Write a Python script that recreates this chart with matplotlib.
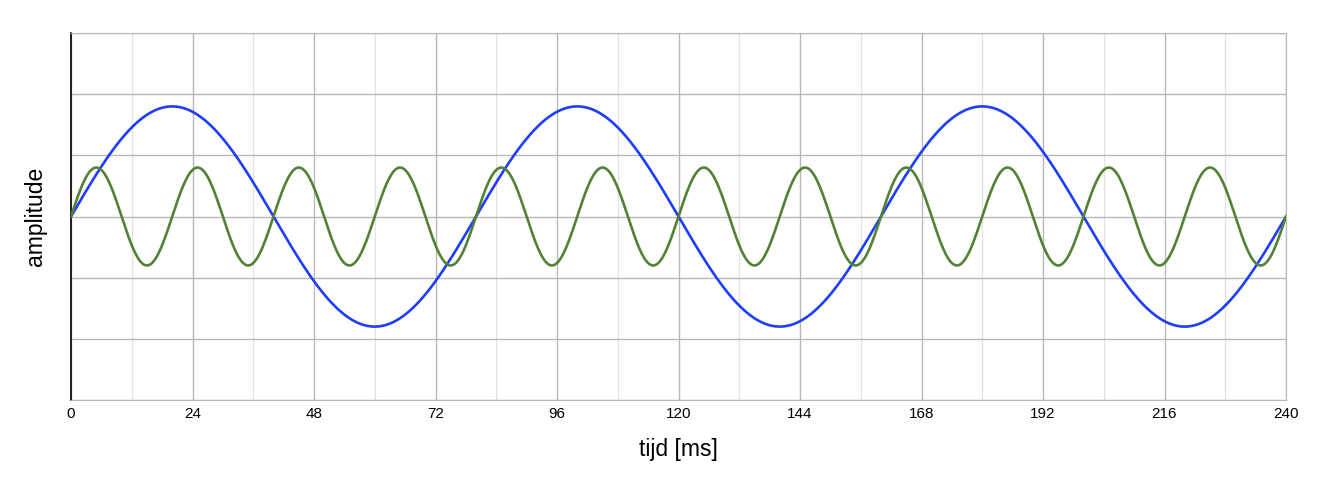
import numpy as np
import matplotlib.pyplot as plt
from matplotlib.ticker import MultipleLocator

plt.rcParams['font.family'] = ['Liberation Sans', 'DejaVu Sans']

# signalen: frequentie [Hz] en amplitude
signal_names = ['12.5 Hz', '50 Hz']
signal_freqs = [12.5, 50.0]
signal_amps = [1.8, 0.8]
signal_colors = ['#1f3dff', '#538135']

x_ticks = [0, 24, 48, 72, 96, 120, 144, 168, 192, 216, 240]

t = np.linspace(0, 240, 2401)  # tijd in ms

fig = plt.figure(figsize=(13.24, 4.97), dpi=100)
ax = fig.add_axes([71 / 1324, 1 - 400 / 497, (1286 - 71) / 1324, (400 - 33) / 497])

for name, f, a, c in zip(signal_names, signal_freqs, signal_amps, signal_colors):
    ax.plot(t, a * np.sin(2 * np.pi * f * t / 1000), color=c, linewidth=1.9,
            label=name, zorder=3)

ax.set_xlim(0, 240)
ax.set_ylim(-3, 3)
ax.set_xticks(x_ticks)
ax.xaxis.set_minor_locator(MultipleLocator(12))
ax.yaxis.set_major_locator(MultipleLocator(1))
ax.set_yticklabels([])
ax.tick_params(axis='both', which='both', length=0)
ax.tick_params(axis='x', labelsize=11, pad=5)

ax.grid(True, which='major', color='#b8b8b8', linewidth=1.0)
ax.grid(True, which='minor', axis='x', color='#e2e2e2', linewidth=0.9)
ax.set_axisbelow(True)

for side in ['top', 'right', 'bottom']:
    ax.spines[side].set_color('#b8b8b8')
ax.spines['left'].set_color('black')
ax.spines['left'].set_linewidth(1.2)

ax.set_xlabel('tijd [ms]', fontsize=16.5, labelpad=12)
ax.set_ylabel('amplitude', fontsize=16.5, labelpad=14)

fig.savefig('out.png', dpi=100)
